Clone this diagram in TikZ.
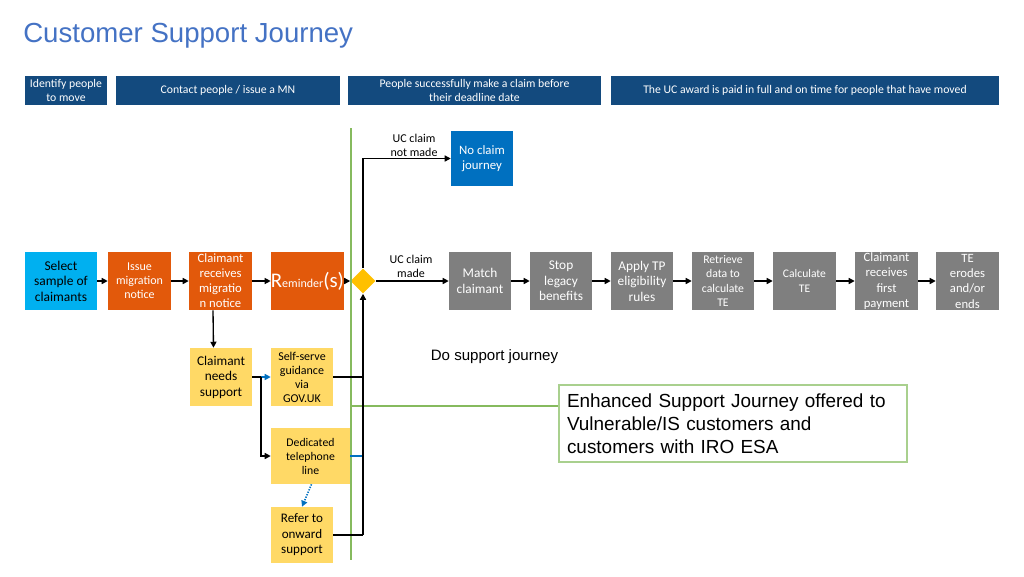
\documentclass[tikz,border=0pt]{standalone}
\usepackage{fontspec}
\setmainfont{Carlito}
\newfontfamily\arialf{Liberation Sans}
\usetikzlibrary{arrows.meta,shapes.geometric,calc}
\newdimen\px \px=0.75pt
\definecolor{hdrblue}{HTML}{134A7E}
\definecolor{orng}{HTML}{E2590B}
\definecolor{cyanb}{HTML}{00B0F0}
\definecolor{yel}{HTML}{FFD966}
\definecolor{gold}{HTML}{FFC000}
\definecolor{greyb}{HTML}{7F7F7F}
\definecolor{blueb}{HTML}{0070C0}
\definecolor{gline}{HTML}{86BA5E}
\definecolor{gbox}{HTML}{A9D08E}
\definecolor{titleblue}{HTML}{4472C4}
\newcommand{\fA}{\fontsize{10}{11.6}\selectfont}
\newcommand{\fB}{\fontsize{9}{10.5}\selectfont}
\newcommand{\fC}{\fontsize{9.5}{11.4}\selectfont}
\tikzset{
  box/.style={rectangle, inner sep=0pt, align=center, minimum width=62\px, minimum height=58\px},
  hdr/.style={box, fill=hdrblue, text=white, font=\fontsize{8.8}{10.5}\selectfont, minimum height=29\px},
  orbox/.style={box, fill=orng, text=white},
  gbx/.style={box, fill=greyb, text=white, font=\fA},
  ybox/.style={box, fill=yel, text=black},
  arr/.style={draw=black, line width=1pt, -{Triangle[length=4.5pt,width=4.5pt]}},
  ln/.style={draw=black, line width=1pt},
  barr/.style={draw=blueb, line width=1pt, -{Triangle[length=4.5pt,width=4.5pt]}},
  bln/.style={draw=blueb, line width=1pt},
  grn/.style={draw=gline, line width=1.3pt},
  lbl/.style={align=center, font=\fB, inner sep=0pt}
}
\begin{document}
\begin{tikzpicture}[x=1\px, y=-1\px]
\useasboundingbox (0,0) rectangle (1024,576);
% title
\node[anchor=west, inner sep=0pt, text=titleblue, font=\arialf\fontsize{20.7}{24}\selectfont] (title) at (23,36) {Customer Support Journey};
% headers
\node[hdr, minimum width=82\px] (h1) at (66,90.5) {Identify people\\to move};
\node[hdr, minimum width=224\px] (h2) at (228,90.5) {Contact people / issue a MN};
\node[hdr, minimum width=253\px] (h3) at (474.5,90.5) {People successfully make a claim before\\their deadline date};
\node[hdr, minimum width=388\px] (h4) at (805,90.5) {The UC award is paid in full and on time for people that have moved};
% green separator
\coordinate (gtop) at (351,128);
\coordinate (gbot) at (351,560);
\coordinate (gmid) at (351,406);
% main row
\node[box, fill=cyanb, font=\fontsize{10.1}{11.6}\selectfont, minimum width=72\px] (sel) at (61,281) {Select\\sample of\\claimants};
\node[orbox, font=\fB, minimum width=63\px] (iss) at (139.5,281) {Issue\\migration\\notice};
\node[orbox, font=\fontsize{9.5}{11.3}\selectfont, minimum width=63\px] (rec) at (220.5,281) {Claimant\\receives\\migratio\\n notice};
\node[orbox, minimum width=73\px] (rem) at (307.5,281) {{\fontsize{15.6}{17}\selectfont R}{\fontsize{9}{10}\selectfont eminder}{\fontsize{15.6}{17}\selectfont (s)}};
\node[diamond, fill=gold, inner sep=0pt, minimum width=25\px, minimum height=25\px] (dia) at (363,281) {};
\node[box, fill=blueb, text=white, font=\fontsize{9.6}{11.6}\selectfont, minimum height=55\px] (noc) at (482,158.5) {No claim\\journey};
\node[gbx] (match) at (480,281) {Match\\claimant};
\node[gbx] (stop) at (561,281) {Stop\\legacy\\benefits};
\node[gbx] (apply) at (642,281) {Apply TP\\eligibility\\rules};
\node[gbx, font=\fontsize{8.8}{10.6}\selectfont] (retr) at (723,281) {Retrieve\\data to\\calculate\\TE};
\node[gbx, font=\fontsize{8.7}{10.6}\selectfont, minimum width=63\px] (calc) at (804.5,281) {Calculate\\TE};
\node[gbx, font=\fontsize{9.5}{11.5}\selectfont, minimum width=63\px] (first) at (886.5,281) {Claimant\\receives\\first\\payment};
\node[gbx, font=\fontsize{9.5}{11.5}\selectfont, minimum width=63\px] (te) at (967.5,281) {TE\\erodes\\and/or\\ends};
% labels
\node[lbl] (lnot) at (414,145) {UC claim\\not made};
\node[lbl] (lmade) at (411,266) {UC claim\\made};
% support
\node[ybox, font=\fA] (need) at (221,377) {Claimant\\needs\\support};
\node[ybox, font=\fB] (self) at (302,377) {Self-serve\\guidance\\via\\GOV.UK};
\node[ybox, font=\fontsize{8.8}{10.5}\selectfont, minimum width=79\px, minimum height=56\px] (tel) at (310.5,456) {Dedicated\\telephone\\line};
\node[ybox, font=\fontsize{9.8}{11.6}\selectfont, minimum height=56\px] (ref) at (302,535) {Refer to\\onward\\support};
\node[inner sep=0pt, font=\arialf\fontsize{11.3}{13}\selectfont] (dsj) at (494.5,357) {Do support journey};
\node[draw=gbox, line width=2.2pt, align=left, inner xsep=8\px, inner ysep=0pt, text width=332\px, minimum height=77\px, font=\arialf\fontsize{14.2}{17.3}\selectfont] (enh) at (733,423.5) {Enhanced Support Journey offered to\\Vulnerable/IS customers and\\customers with IRO ESA};
% green lines
\draw[grn] (gtop) -- (gbot);
\draw[grn] (gmid) -- (gmid -| enh.west);
% main arrows
\draw[arr] (sel) -- (iss);
\draw[arr] (iss) -- (rec);
\draw[arr] (rec) -- (rem);
\draw[arr] (rem) -- (dia);
\draw[arr] (dia.north) |- (noc.west);
\draw[arr] (dia.east) -- (match.west);
\draw[arr] (match) -- (stop);
\draw[arr] (stop) -- (apply);
\draw[arr] (apply) -- (retr);
\draw[arr] (retr) -- (calc);
\draw[arr] (calc) -- (first);
\draw[arr] (first) -- (te);
% support connectors
\draw[arr] ([xshift=-7.5\px]rec.south) -- ([xshift=-7.5\px]need.north);
\coordinate (j) at (261,377);
\draw[ln] (need.east) -- (j);
\draw[barr] (j) -- (self.west);
\draw[arr] (j) |- (tel.west);
\draw[barr, densely dotted, line width=1.2pt] ([xshift=1\px]tel.south) -- (ref.north);
\coordinate (bus) at (363,535);
\draw[ln] (self.east) -- (self.east -| bus);
\draw[bln] (tel.east) -- (tel.east -| bus);
\draw[ln] (ref.east) -- (bus);
\draw[arr] (bus) -- (dia.south);
\end{tikzpicture}
\end{document}
